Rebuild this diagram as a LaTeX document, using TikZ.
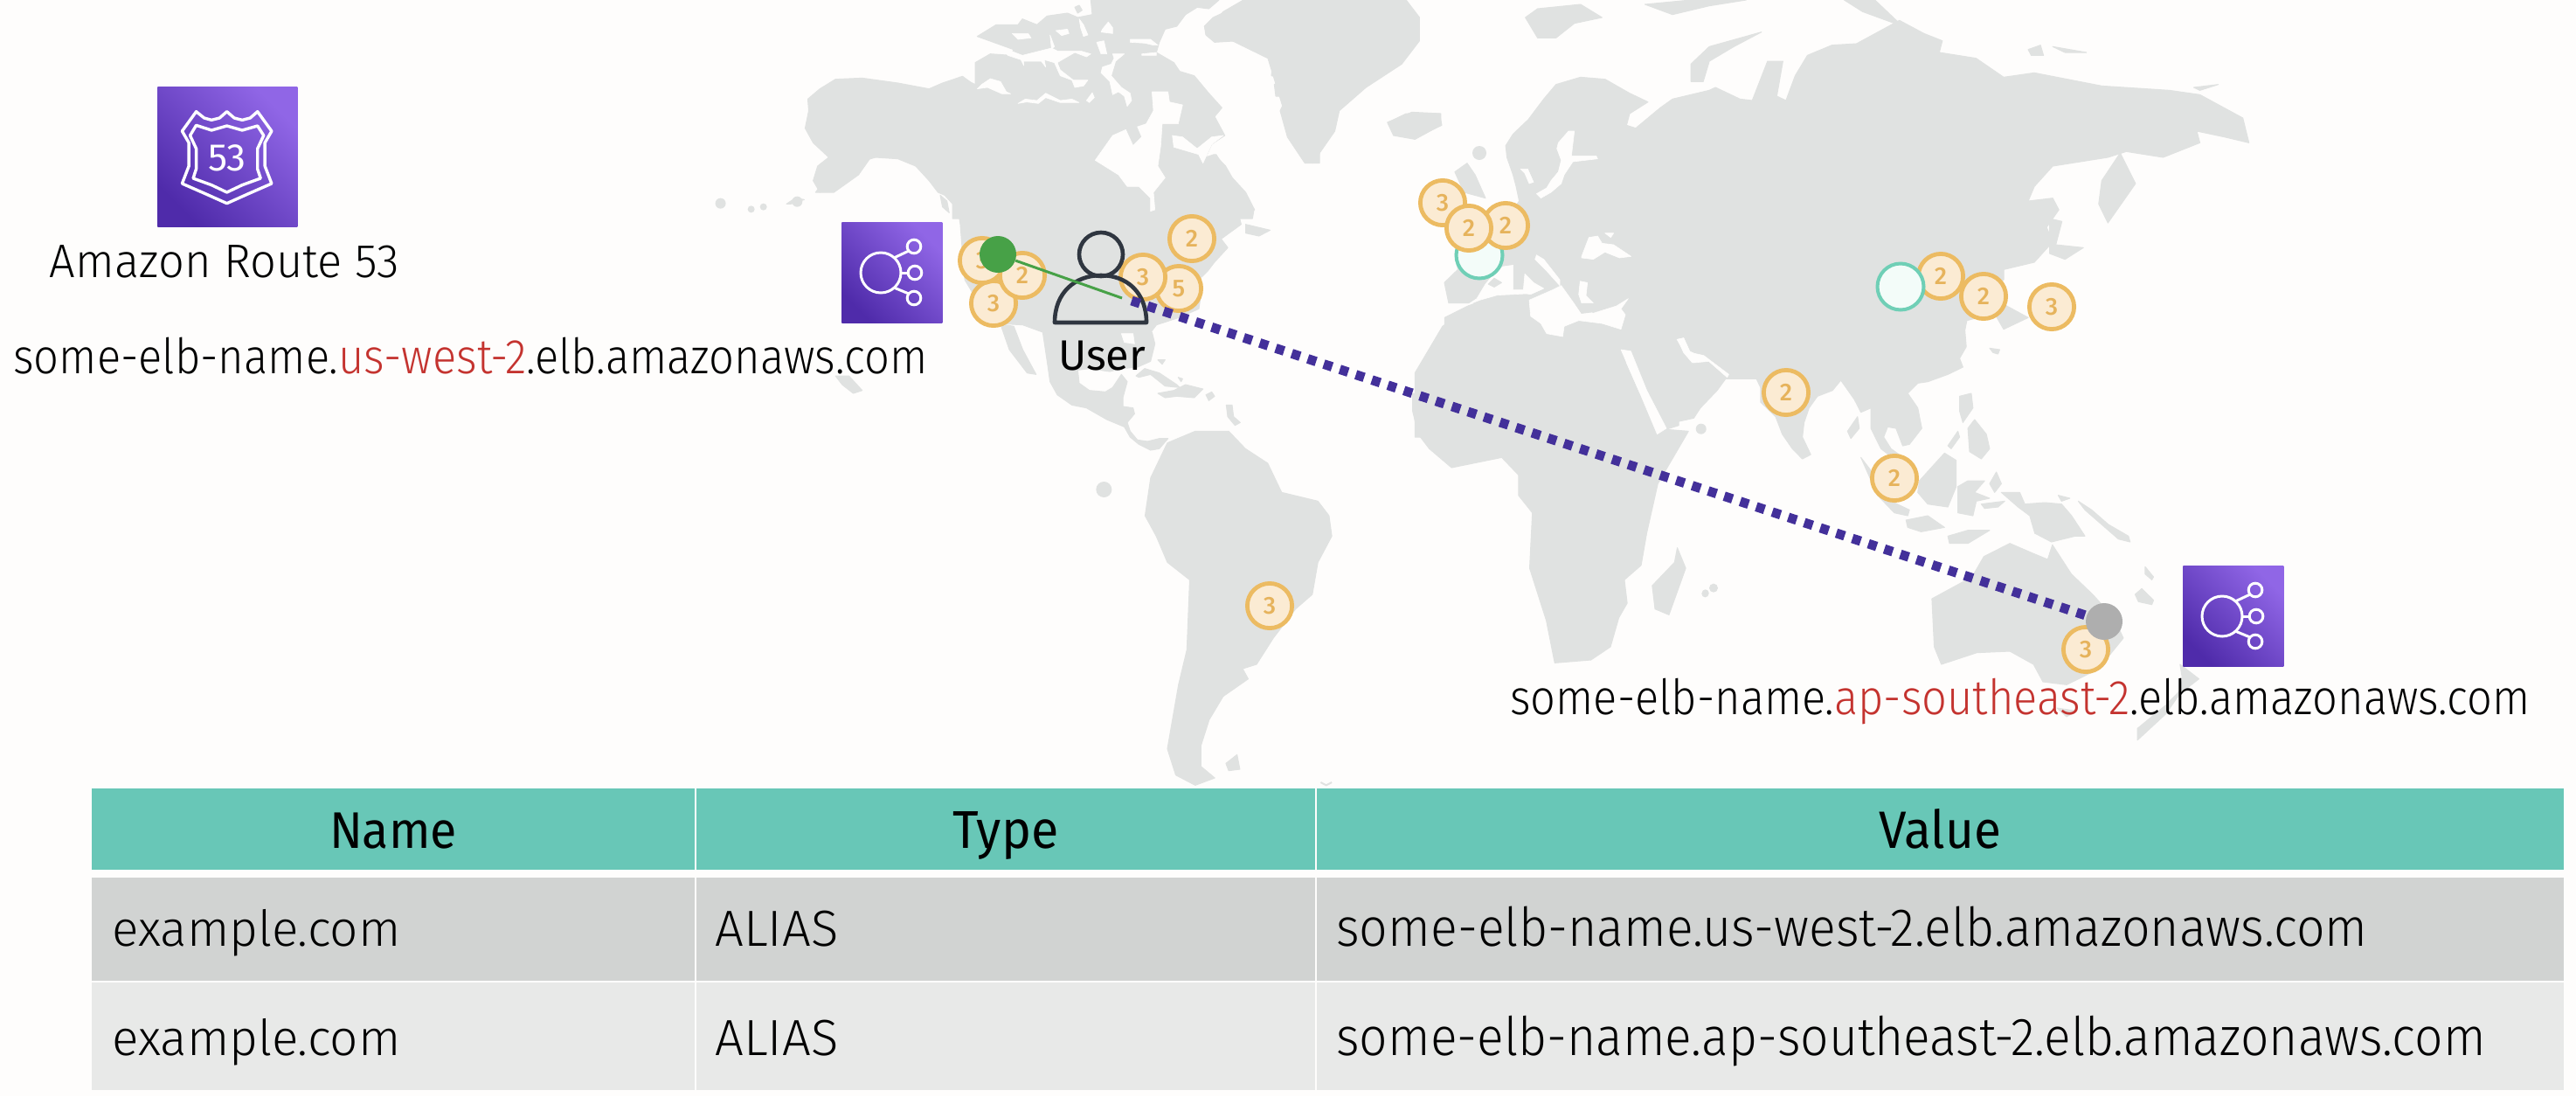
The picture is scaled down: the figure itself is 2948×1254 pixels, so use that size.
\documentclass[tikz,border=0pt]{standalone}
\usepackage{fontspec}
\usepackage{graphicx}
\setmainfont{Fira Sans}[UprightFont=* Light,BoldFont=*]
\newfontfamily\regf{Fira Sans}
\newfontfamily\medf{Fira Sans}[UprightFont=* Medium]
\definecolor{bgc}{HTML}{FEFDFC}
\definecolor{landc}{HTML}{E0E2E1}
\definecolor{hdc}{HTML}{68C7B7}
\definecolor{rowa}{HTML}{D1D3D2}
\definecolor{rowb}{HTML}{E8E9E8}
\definecolor{coinl}{HTML}{ECBB62}
\definecolor{coinf}{HTML}{FBEBD3}
\definecolor{coint}{HTML}{E6B35C}
\definecolor{tealc}{HTML}{6FCFB6}
\definecolor{tealf}{HTML}{F3FCF9}
\definecolor{pdark}{HTML}{4F2BAA}
\definecolor{plite}{HTML}{9066E6}
\definecolor{dotc}{HTML}{43309A}
\definecolor{grn}{HTML}{47A147}
\definecolor{graydot}{HTML}{AEAEAE}
\definecolor{redt}{HTML}{C4332F}
\definecolor{usr}{HTML}{2F3640}
\newcommand{\fitw}[3][1]{\scalebox{1}[#1]{\resizebox{#2pt}{!}{#3}}}
\newcommand{\rd}[1]{\textcolor{redt}{#1}}
\newcommand{\elbglyph}[2]{%
\begin{scope}[shift={(#1,#2)},draw=white,line width=1.5pt]
\draw (45,58) circle[radius=11.5pt];
\draw (83,28) circle[radius=3.9pt];
\draw (84,58) circle[radius=3.9pt];
\draw (83,87) circle[radius=3.9pt];
\draw (60,41) -- (77,33);
\draw (68,58) -- (76,58);
\draw (60,75) -- (77,82);
\end{scope}}
\tikzset{
 land/.style={fill=landc,draw=landc,line width=0.5pt,line join=round},
 sea/.style={fill=bgc,draw=bgc,line width=0.3pt,line join=round},
 zone/.style={x=#1,y=-0.16667pt},
 coin/.style={circle,draw=coinl,fill=coinf,line width=2.4pt,minimum size=25.6pt,inner sep=0pt,text=coint,font=\medf\fontsize{14}{14}\selectfont},
 tealcoin/.style={circle,draw=tealc,fill=tealf,line width=2pt,minimum size=26.5pt,inner sep=0pt},
 iconbox/.style={rectangle,minimum size=57.5pt,inner sep=0pt,anchor=north west,bottom color=pdark,top color=plite,shading angle=-45},
 dot/.style={circle,minimum size=21pt,inner sep=0pt,fill=#1},
 cell/.style={rectangle,anchor=north west,inner sep=0pt,fill=#1},
 lab/.style={inner sep=0pt,anchor=base west,text=black},
 labc/.style={inner sep=0pt,anchor=base,text=black},
}
\begin{document}
\begin{tikzpicture}[x=0.5pt,y=-0.5pt]
\useasboundingbox (0,0) rectangle (2948,1254);
\fill[bgc] (0,0) rectangle (2948,1254);
% ---------- North America, Greenland
\begin{scope}[shift={(900,0)},zone=0.2551pt]
\filldraw[land] (42,440)--(50,380)--(48,340)--(75,305)--(110,272)--(170,268)--(250,285)--(320,305)--(350,285)--(395,262)--(420,290)--(455,300)--(490,295)--(505,325)--(520,355)--(560,335)--(600,330)--(650,350)--(660,310)--(700,280)--(760,285)--(800,320)--(830,325)--(870,340)--(885,360)--(870,395)--(840,440)--(825,470)--(770,475)--(720,495)--(695,540)--(720,580)--(770,600)--(800,625)--(820,670)--(820,725)--(830,710)--(830,640)--(850,600)--(880,600)--(900,560)--(960,530)--(985,570)--(1000,610)--(1030,660)--(1050,720)--(1015,740)--(1020,770)--(975,820)--(990,850)--(960,900)--(945,930)--(925,960)--(930,1010)--(925,1060)--(880,1090)--(830,1115)--(815,1145)--(575,1140)--(530,1115)--(470,1110)--(435,1050)--(400,960)--(395,870)--(390,770)--(385,720)--(355,670)--(340,660)--(320,620)--(290,570)--(250,545)--(200,540)--(165,555)--(150,600)--(110,635)--(75,660)--(60,620)--(70,570)--(95,540)--(60,490)--cycle;
\filldraw[land] (480,1112)--(510,1120)--(530,1200)--(560,1285)--(540,1280)--(500,1200)--cycle;
\filldraw[land] (945,100)--(980,40)--(1025,0)--(1390,0)--(1420,60)--(1420,140)--(1380,220)--(1300,300)--(1240,380)--(1230,450)--(1180,560)--(1150,520)--(1120,400)--(1100,300)--(1080,200)--(1000,140)--cycle;
\filldraw[land] (1350,420)--(1390,390)--(1465,390)--(1470,430)--(1420,465)--(1370,460)--cycle;
\filldraw[land] (1030,770)--(1085,790)--(1060,810)--(1030,800)--cycle;
\filldraw[land] (110,1290)--(140,1290)--(170,1340)--(150,1350)--(125,1320)--cycle;
\filldraw[land] (345,670)--(360,690)--(365,730)--(350,710)--cycle;
\filldraw[land] (0,700)--(20,680)--(40,685)--(10,700)--cycle;
\end{scope}
% ---------- Arctic Canada base
\begin{scope}[shift={(1090,0)},zone=0.16667pt]
\filldraw[land] (0,285)--(25,265)--(78,290)--(78,215)--(130,185)--(200,190)--(210,170)--(85,125)--(150,85)--(225,85)--(240,65)--(290,85)--(325,55)--(395,45)--(430,60)--(480,50)--(475,0)--(915,0)--(880,30)--(840,25)--(800,50)--(770,90)--(730,100)--(710,145)--(700,180)--(760,215)--(780,245)--(830,260)--(880,320)--(925,370)--(900,400)--(935,465)--(890,495)--(860,560)--(905,530)--(950,600)--(960,640)--(1000,680)--(1035,720)--(1030,750)--(0,750)--cycle;
\filldraw[land] (865,90)--(895,60)--(960,30)--(1000,0)--(1260,0)--(1260,560)--(1210,560)--(1150,470)--(1125,380)--(1150,330)--(1110,330)--(1105,290)--(1145,270)--(1095,260)--(1100,210)--(1070,170)--(1035,135)--(980,140)--(900,145)--(870,120)--cycle;
\filldraw[land] (420,25)--(435,18)--(445,35)--(430,45)--cycle;
\end{scope}
% ---------- Mexico, Caribbean
\begin{scope}[shift={(1170,380)},zone=0.16667pt]
\filldraw[land] (70,0)--(85,100)--(95,170)--(120,215)--(170,250)--(220,260)--(290,300)--(350,325)--(370,360)--(400,385)--(440,405)--(470,400)--(500,365)--(470,365)--(430,375)--(395,370)--(370,340)--(360,310)--(385,280)--(380,260)--(345,255)--(345,225)--(360,170)--(340,145)--(310,190)--(285,205)--(230,200)--(195,175)--(190,130)--(230,125)--(300,135)--(340,125)--(395,120)--(440,100)--(455,40)--(445,0)--cycle;
\filldraw[land] (390,150)--(420,125)--(470,140)--(530,180)--(540,190)--(490,185)--(440,145)--(400,155)--cycle;
\filldraw[land] (465,210)--(520,200)--(560,180)--(620,195)--(590,225)--(530,220)--(490,225)--cycle;
\filldraw[land] (630,215)--(650,205)--(660,220)--(640,235)--cycle;
\filldraw[land] (465,95)--(490,95)--(480,110)--cycle;
\filldraw[land] (535,155)--(550,160)--(545,170)--cycle;
\filldraw[land] (700,250)--(720,250)--(725,290)--(748,310)--(730,320)--(705,290)--cycle;
\fill[landc] (280,540) circle[radius=4.5pt];
\end{scope}
% ---------- crop 5, Alaska tail and islands
\begin{scope}[shift={(0,80)},zone=0.35088pt]
\filldraw[land] (1330,420)--(1345,380)--(1390,330)--(1420,300)--(1400,360)--(1360,420)--cycle;
\fill[landc] (1175,458) circle[radius=3pt];
\fill[landc] (1225,478) circle[radius=2pt];
\fill[landc] (1245,470) circle[radius=2pt];
\fill[landc] (1300,452) circle[radius=3pt];
\end{scope}
% ---------- Eurasia
\begin{scope}[shift={(1500,0)},zone=0.35088pt]
\filldraw[land] (225,1040)--(218,970)--(240,925)--(235,870)--(270,830)--(300,790)--(330,720)--(340,690)--(335,640)--(330,600)--(320,540)--(318,500)--(330,460)--(355,410)--(380,340)--(400,290)--(440,265)--(480,272)--(520,320)--(550,350)--(520,390)--(515,430)--(530,440)--(570,370)--(590,340)--(650,310)--(660,300)--(700,340)--(720,345)--(745,210)--(770,210)--(760,330)--(775,345)--(790,260)--(810,190)--(850,155)--(890,150)--(960,70)--(1000,115)--(1030,140)--(1025,180)--(1085,200)--(1130,265)--(1180,250)--(1290,295)--(1400,310)--(1450,325)--(1520,405)--(1530,490)--(1490,470)--(1445,450)--(1450,490)--(1390,540)--(1330,520)--(1300,540)--(1210,570)--(1180,640)--(1170,690)--(1210,680)--(1220,720)--(1200,780)--(1210,830)--(1180,900)--(1130,925)--(1130,960)--(1110,1000)--(1135,1050)--(1170,1090)--(1130,1130)--(1115,1075)--(1070,1100)--(1065,1150)--(1000,1300)--(600,1300)--(600,1460)--(570,1480)--(505,1190)--(400,1150)--(350,1040)--(270,1040)--cycle;
\filldraw[land] (1285,700)--(1290,620)--(1320,525)--(1345,630)--(1300,765)--cycle;
\filldraw[land] (1205,750)--(1225,760)--(1215,840)--(1260,850)--(1230,890)--(1205,870)--cycle;
\filldraw[land] (170,1500)--(170,1280)--(215,1120)--(255,1060)--(350,1045)--(400,1160)--(505,1205)--(565,1490)--(480,1500)--cycle;
\filldraw[land] (350,60)--(370,30)--(440,15)--(475,60)--(430,80)--(400,130)--(370,130)--cycle;
\filldraw[land] (545,15)--(620,0)--(710,0)--(650,20)--(590,50)--cycle;
\filldraw[land] (870,0)--(920,0)--(965,90)--(900,40)--cycle;
\filldraw[land] (620,280)--(620,220)--(650,160)--(735,110)--(690,160)--(650,210)--(640,280)--cycle;
\filldraw[land] (1170,170)--(1190,155)--(1195,190)--(1175,190)--cycle;
\filldraw[land] (1210,160)--(1265,180)--(1230,180)--cycle;
\filldraw[land] (1440,300)--(1480,290)--(1450,310)--cycle;
\filldraw[land] (235,590)--(255,560)--(268,600)--(285,680)--(250,660)--cycle;
\filldraw[land] (125,420)--(165,385)--(212,390)--(212,430)--(170,478)--(135,465)--cycle;
\fill[landc] (275,525) circle[radius=4pt];
\end{scope}
% ---------- North Africa top edge
\begin{scope}[shift={(1620,150)},zone=0.16667pt]
\filldraw[land] (100,640)--(180,600)--(280,565)--(380,558)--(400,625)--(430,665)--(510,700)--(560,650)--(720,680)--(720,900)--(100,900)--cycle;
\end{scope}
% ---------- South America and Africa
\begin{scope}[shift={(1100,450)},zone=0.31888pt]
\filldraw[land] (340,290)--(370,170)--(420,130)--(480,130)--(510,190)--(550,240)--(575,340)--(640,370)--(660,420)--(665,490)--(640,580)--(630,690)--(600,740)--(560,840)--(530,930)--(505,945)--(515,980)--(470,1040)--(445,1120)--(430,1210)--(430,1280)--(455,1320)--(420,1345)--(385,1310)--(370,1220)--(390,1000)--(405,880)--(410,640)--(370,580)--(350,490)--(330,420)--cycle;
\filldraw[land] (810,60)--(820,140)--(840,190)--(880,255)--(970,220)--(1000,280)--(1000,350)--(1025,410)--(1020,600)--(1050,780)--(1065,925)--(1130,915)--(1165,870)--(1180,770)--(1195,720)--(1190,640)--(1220,590)--(1230,480)--(1250,310)--(1305,130)--(1240,120)--(1245,60)--(1220,0)--(810,0)--cycle;
\filldraw[land] (1285,530)--(1300,600)--(1270,760)--(1245,740)--(1240,660)--(1280,580)--cycle;
\filldraw[land] (475,1270)--(495,1240)--(500,1290)--(480,1295)--cycle;
\fill[landc] (1350,668) circle[radius=2.5pt];
\fill[landc] (1335,688) circle[radius=2pt];
\draw[landc,line width=1pt] (645,1335)--(655,1345)--(665,1335);
\end{scope}
% ---------- South and South-East Asia
\begin{scope}[shift={(1900,350)},zone=0.19135pt]
\filldraw[land] (0,0)--(905,0)--(915,140)--(895,180)--(905,210)--(860,235)--(800,260)--(770,265)--(740,300)--(770,350)--(782,420)--(745,475)--(725,480)--(705,420)--(680,415)--(668,450)--(690,490)--(720,515)--(705,530)--(660,490)--(630,420)--(630,350)--(600,365)--(580,320)--(540,255)--(515,290)--(470,310)--(445,350)--(430,400)--(425,450)--(450,510)--(425,525)--(395,490)--(365,440)--(345,380)--(300,330)--(300,280)--(265,195)--(240,190)--(205,235)--(170,290)--(120,350)--(100,385)--(0,410)--cycle;
\filldraw[land] (985,145)--(1015,150)--(1010,165)--(995,160)--cycle;
\filldraw[land] (600,520)--(640,580)--(690,670)--(745,700)--(740,720)--(700,710)--(650,650)--cycle;
\filldraw[land] (895,310)--(930,300)--(935,350)--(905,400)--(895,360)--cycle;
\filldraw[land] (940,390)--(975,440)--(985,490)--(960,525)--(925,500)--(920,420)--cycle;
\filldraw[land] (860,480)--(890,430)--(895,450)--(870,490)--cycle;
\filldraw[land] (775,600)--(850,505)--(885,530)--(885,620)--(860,690)--(800,680)--(770,640)--cycle;
\filldraw[land] (890,620)--(920,600)--(970,600)--(940,640)--(985,660)--(945,670)--(935,720)--(890,710)--cycle;
\filldraw[land] (985,610)--(1005,570)--(1020,610)--(1000,640)--cycle;
\filldraw[land] (735,735)--(800,720)--(850,760)--(780,775)--(740,760)--cycle;
\filldraw[land] (860,790)--(920,770)--(985,770)--(920,815)--(865,815)--cycle;
\filldraw[land] (1020,640)--(1075,640)--(1090,680)--(1150,675)--(1200,680)--(1230,720)--(1270,790)--(1240,790)--(1170,810)--(1120,780)--(1105,720)--(1070,690)--cycle;
\filldraw[land] (960,680)--(1030,670)--(1010,690)--(970,695)--cycle;
\filldraw[land] (1190,650)--(1225,660)--(1200,670)--cycle;
\filldraw[land] (1250,670)--(1290,700)--(1340,750)--(1400,790)--(1405,810)--(1370,800)--(1310,740)--(1270,700)--cycle;
\filldraw[land] (560,430)--(590,380)--(595,420)--(570,455)--cycle;
\filldraw[land] (1450,895)--(1475,930)--(1470,940)--(1450,920)--cycle;
\filldraw[land] (1420,990)--(1440,970)--(1475,1010)--(1470,1025)--(1430,1015)--cycle;
\fill[landc] (122,422) circle[radius=3pt];
\fill[landc] (135,985) circle[radius=2pt];
\fill[landc] (160,968) circle[radius=2pt];
\end{scope}
% ---------- Oceania
\begin{scope}[shift={(2100,450)},zone=0.27042pt]
\filldraw[land] (205,705)--(290,630)--(315,560)--(370,515)--(420,550)--(450,570)--(460,520)--(500,620)--(545,690)--(590,770)--(610,840)--(580,900)--(540,960)--(490,1000)--(440,990)--(420,930)--(370,885)--(300,890)--(225,930)--(210,870)--cycle;
\filldraw[land] (470,1080)--(510,1090)--(490,1110)--cycle;
\filldraw[land] (730,930)--(770,980)--(730,1030)--(700,1100)--(640,1190)--(640,1150)--(700,1070)--(730,1020)--(735,980)--cycle;
\end{scope}
% ---------- seas: Arctic channels and Hudson Bay
\begin{scope}[shift={(1090,0)},zone=0.16667pt]
\filldraw[sea] (175,165)--(240,190)--(340,165)--(360,175)--(440,175)--(475,185)--(460,195)--(420,180)--(385,200)--(360,215)--(370,240)--(415,275)--(465,275)--(450,295)--(420,300)--(410,275)--(370,260)--(350,215)--(315,205)--(320,230)--(305,210)--(245,210)--(245,225)--(235,205)--(190,190)--cycle;
\filldraw[sea] (335,120)--(350,160)--(340,168)--cycle;
\filldraw[sea] (100,290)--(130,270)--(165,280)--(185,315)--(200,322)--(170,322)--(120,300)--(85,305)--cycle;
\filldraw[sea] (225,355)--(250,340)--(290,345)--(320,320)--(370,345)--(410,340)--(435,352)--(370,352)--(320,335)--(295,355)--(255,350)--cycle;
\filldraw[sea] (460,345)--(480,318)--(487,335)--(470,352)--cycle;
\filldraw[sea] (205,115)--(260,115)--(270,130)--(225,135)--cycle;
\filldraw[sea] (355,105)--(395,100)--(400,115)--(375,122)--cycle;
\filldraw[sea] (435,65)--(450,85)--(465,120)--(450,125)--(440,95)--cycle;
\filldraw[sea] (495,145)--(520,140)--(530,185)--(510,185)--cycle;
\filldraw[sea] (610,135)--(680,135)--(705,155)--(690,155)--(660,148)--(610,145)--cycle;
\filldraw[sea] (650,185)--(700,180)--(700,190)--(650,190)--cycle;
\filldraw[sea] (550,185)--(590,185)--(560,210)--(545,260)--(580,300)--(610,320)--(615,345)--(600,365)--(590,330)--(570,315)--(550,325)--(540,280)--(510,250)--(515,230)--(545,220)--(555,200)--cycle;
\filldraw[sea] (515,100)--(535,75)--(550,95)--(550,115)--(510,110)--cycle;
\filldraw[sea] (685,315)--(740,315)--(745,350)--(790,360)--(775,425)--(720,425)--(715,500)--(705,570)--(730,610)--(690,660)--(695,720)--(680,725)--(680,680)--(640,640)--(600,640)--(570,600)--(490,550)--(550,465)--(595,445)--(620,500)--(650,470)--(635,435)--(665,425)--(690,380)--cycle;
\filldraw[sea] (755,465)--(790,470)--(840,510)--(890,470)--(930,465)--(890,495)--(860,560)--(845,530)--(760,505)--cycle;
\end{scope}
\begin{scope}[shift={(1170,380)},zone=0.16667pt]
\filldraw[sea] (340,5)--(380,5)--(385,40)--(350,35)--cycle;
\end{scope}
% ---------- seas: Europe
\begin{scope}[shift={(1620,150)},zone=0.16667pt]
\filldraw[sea] (490,40)--(525,0)--(545,0)--(535,85)--(620,85)--(625,95)--(540,105)--(510,150)--(500,180)--(465,210)--(430,230)--(415,215)--(450,195)--(465,170)--(490,140)--(500,100)--(485,60)--cycle;
\filldraw[sea] (360,130)--(385,130)--(405,175)--(390,180)--(375,145)--cycle;
\filldraw[sea] (175,598)--(210,575)--(240,525)--(265,495)--(300,465)--(335,460)--(335,545)--(370,545)--(375,490)--(405,520)--(440,540)--(395,560)--(380,558)--(280,563)--(220,580)--cycle;
\filldraw[sea] (415,425)--(440,440)--(495,510)--(495,530)--(450,480)--(410,440)--cycle;
\filldraw[sea] (390,580)--(470,545)--(500,530)--(550,600)--(610,625)--(690,600)--(730,575)--(705,610)--(720,630)--(705,680)--(640,660)--(560,650)--(510,670)--(505,705)--(450,695)--(430,660)--(395,635)--cycle;
\filldraw[sea] (565,515)--(590,520)--(585,565)--(610,590)--(570,590)--(560,560)--cycle;
\filldraw[sea] (570,430)--(595,365)--(625,360)--(640,385)--(680,390)--(740,430)--(700,435)--(650,415)--(610,440)--(570,435)--cycle;
\filldraw[sea] (650,350)--(680,350)--(670,365)--cycle;
\filldraw[sea] (900,715)--(920,710)--(940,755)--(990,780)--(950,795)--(920,760)--cycle;
\filldraw[land] (550,595)--(590,595)--(610,620)--(570,625)--cycle;
\filldraw[land] (250,525)--(270,505)--(295,520)--(270,535)--cycle;
\end{scope}
\begin{scope}[shift={(1500,0)},zone=0.35088pt]
\filldraw[sea] (506,1200)--(522,1205)--(548,1340)--(580,1470)--(565,1490)--(535,1340)--cycle;
\end{scope}
\begin{scope}[shift={(1900,350)},zone=0.19135pt]
\filldraw[sea] (50,115)--(70,110)--(90,160)--(130,170)--(205,235)--(200,245)--(145,190)--(100,195)--(75,165)--cycle;
\end{scope}
% ---------- coins
\node[coin] (w3b) at (1137,347) {3};
\node[coin] (w3a) at (1124,298) {3};
\node[coin] (w2) at (1170,315) {2};
\node[coin] (e2) at (1364,273) {2};
\node[coin] (e5) at (1349,330) {5};
\node[coin] (e3) at (1308,317) {3};
\node[tealcoin] (teu) at (1693,292) {};
\node[coin] (eu3) at (1651,232) {3};
\node[coin] (eu2b) at (1723,258) {2};
\node[coin] (eu2a) at (1681,261) {2};
\node[coin] (as2a) at (2221,316) {2};
\node[tealcoin] (tas) at (2175,328) {};
\node[coin] (as2b) at (2270,339) {2};
\node[coin] (jp3) at (2348,351) {3};
\node[coin] (in2) at (2044,449) {2};
\node[coin] (sg2) at (2168,547) {2};
\node[coin] (br3) at (1453,693) {3};
\node[coin] (au3) at (2387,743) {3};
% ---------- user
\node[circle,draw=usr,line width=2.3pt,minimum size=25pt,inner sep=0pt] (uhead) at (1260,291) {};
\draw[usr,line width=2.3pt,line join=round] (1207,369) .. controls (1207,335) and (1230,315) .. (1260,315) .. controls (1290,315) and (1312,335) .. (1312,369) -- cycle;
\node[labc] (ulab) at (1261,423) {\regf\fitw{50}{User}};
% ---------- connectors and dots
\coordinate (ugreen) at (1284,341);
\coordinate (upurple) at (1295,344);
\node[dot=grn] (gdot) at (1142,291) {};
\node[dot=graydot] (gray) at (2408,711) {};
\draw[grn,line width=1.5pt] (gdot) -- (ugreen);
\draw[dotc,line width=5.4pt,dash pattern=on 5pt off 4.65pt] (upurple) -- (gray);
% ---------- icons
\node[iconbox,minimum size=80pt] (r53) at (180,99) {};
\node[iconbox] (elbw) at (963,254) {};
\node[iconbox] (elbe) at (2498,647) {};
\elbglyph{963}{254}
\elbglyph{2498}{647}
\begin{scope}[shift={(0,80)},zone=0.35088pt,draw=white,line width=1.7pt,line join=round]
\draw (320,143)--(333,165)--(345,172)--(358,165)--(370,143)--(382,165)--(395,172)--(408,165)--(420,143)--(443,210)--(432,250)--(432,330)--(443,390)--(405,425)--(370,458)--(335,425)--(297,390)--(308,330)--(308,250)--(297,210)--cycle;
\draw (320,190)--(345,207)--(370,192)--(395,207)--(420,192)--(430,225)--(420,270)--(420,340)--(425,372)--(395,395)--(370,420)--(345,395)--(315,372)--(320,340)--(320,270)--(310,225)--cycle;
\end{scope}
\node[inner sep=0pt,text=white] (r53n) at (260,181) {\regf\fontsize{22}{22}\selectfont 53};
% ---------- labels
\node[labc] (r53lab) at (257,317) {\fitw[1.03]{200}{Amazon Route 53}};
\node[lab] (westlab) at (15,427) {\fitw[1.1]{523}{some-elb-name.\rd{us-west-2}.elb.amazonaws.com}};
\node[lab] (eastlab) at (1728,817) {\fitw[1.1]{583.5}{some-elb-name.\rd{ap-southeast-2}.elb.amazonaws.com}};
% ---------- table
\node[cell=hdc,minimum width=345pt,minimum height=46.5pt] (h1) at (105,902) {};
\node[cell=hdc,minimum width=354pt,minimum height=46.5pt] (h2) at (797,902) {};
\node[cell=hdc,minimum width=713.5pt,minimum height=46.5pt] (h3) at (1507,902) {};
\node[cell=rowa,minimum width=345pt,minimum height=59pt] (a1) at (105,1004) {};
\node[cell=rowa,minimum width=354pt,minimum height=59pt] (a2) at (797,1004) {};
\node[cell=rowa,minimum width=713.5pt,minimum height=59pt] (a3) at (1507,1004) {};
\node[cell=rowb,minimum width=345pt,minimum height=61.5pt] (b1) at (105,1124) {};
\node[cell=rowb,minimum width=354pt,minimum height=61.5pt] (b2) at (797,1124) {};
\node[cell=rowb,minimum width=713.5pt,minimum height=61.5pt] (b3) at (1507,1124) {};
\node[labc] (tn) at (450,970) {\regf\fitw[1.06]{73}{Name}};
\node[labc] (tt) at (1151,970) {\regf\fitw[1.06]{60.5}{Type}};
\node[labc] (tv) at (2220,970) {\regf\fitw[1.06]{70}{Value}};
\node[lab] (a1t) at (128,1082) {\fitw{165}{example.com}};
\node[lab] (b1t) at (128,1207) {\fitw{165}{example.com}};
\node[lab] (a2t) at (818,1082) {\fitw{70.5}{ALIAS}};
\node[lab] (b2t) at (818,1207) {\fitw{70.5}{ALIAS}};
\node[lab] (a3t) at (1529,1082) {\fitw[1.07]{590}{some-elb-name.us-west-2.elb.amazonaws.com}};
\node[lab] (b3t) at (1529,1207) {\fitw[1.07]{657.5}{some-elb-name.ap-southeast-2.elb.amazonaws.com}};
\end{tikzpicture}
\end{document}
